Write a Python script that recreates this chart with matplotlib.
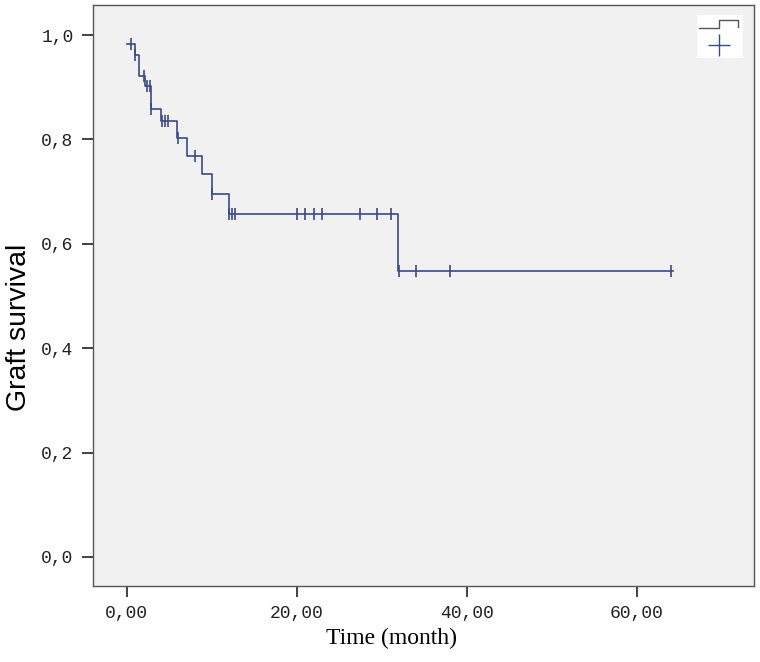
import numpy as np
import matplotlib
matplotlib.use("Agg")
import matplotlib.pyplot as plt
from matplotlib.patches import Rectangle
from matplotlib.lines import Line2D

# Kaplan-Meier step curve (event times in months, survival after each event)
event_times = [0.0, 1.0, 1.5, 2.1, 2.9, 4.0, 5.95, 7.05, 8.9, 10.0, 12.0, 31.95]
survival = [0.982, 0.962, 0.922, 0.902, 0.858, 0.836, 0.803, 0.769, 0.733, 0.695, 0.658, 0.547]
censor_times = [0.5, 1.0, 2.0, 2.4, 2.7, 2.9, 4.1, 4.5, 4.9, 6.0, 8.0, 10.0,
                12.0, 12.4, 12.8, 20.0, 21.0, 22.0, 23.0, 27.5, 29.4, 31.1,
                32.0, 34.0, 38.0, 64.0]
end_time = 64.3

x_ticks = [0, 20, 40, 60]
x_ticklabels = ["0,00", "20,00", "40,00", "60,00"]
y_ticks = [0.0, 0.2, 0.4, 0.6, 0.8, 1.0]
y_ticklabels = ["0,0", "0,2", "0,4", "0,6", "0,8", "1,0"]

LINE = "#3b4a86"
BG = "#f1f1f1"

fig = plt.figure(figsize=(7.6, 6.62), dpi=100)
fig.patch.set_facecolor("white")
ax = fig.add_axes([93 / 760, 1 - 586 / 662, 661 / 760, 581 / 662])
ax.set_facecolor(BG)

st = np.array(event_times + [end_time])
sv = np.array(survival + [survival[-1]])
ax.step(st, sv, where="post", color=LINE, lw=1.2)

ct = np.array(censor_times)
idx = np.searchsorted(np.array(event_times), ct, side="right") - 1
cy = np.array(survival)[idx]
ax.plot(ct, cy, ls="none", marker="|", ms=9, mew=1.2, color=LINE)

ax.set_xlim(-3.96, 73.8)
ax.set_ylim(-0.0556, 1.0575)
ax.set_xticks(x_ticks)
ax.set_xticklabels(x_ticklabels, family="Liberation Mono", fontsize=13, color="#222222")
ax.set_yticks(y_ticks)
ax.set_yticklabels(y_ticklabels, family="Liberation Mono", fontsize=13, color="#222222")
ax.tick_params(direction="out", length=8, width=1.2, color="#222222", pad=6)
for s in ax.spines.values():
    s.set_color("#555555"); s.set_linewidth(1.0)

ax.set_xlabel("Time (month)", family="Liberation Serif", fontsize=17)
ax.xaxis.set_label_coords(0.451, -0.072)
ax.set_ylabel("Graft survival", family="Liberation Sans", fontsize=20.5)
ax.yaxis.set_label_coords(-0.093, 0.445)

# legend box drawn in axes fraction coords
def fx(px): return (px - 93) / 661
def fy(py): return (586 - py) / 581
ax.add_patch(Rectangle((fx(697), fy(58)), fx(743) - fx(697), fy(15) - fy(58),
                       transform=ax.transAxes, fc="white", ec="none", zorder=3))
ax.add_line(Line2D([fx(699), fx(719), fx(719), fx(738), fx(738)],
                   [fy(28), fy(28), fy(20), fy(20), fy(27)],
                   transform=ax.transAxes, color="#555555", lw=1.0, zorder=4))
ax.plot([fx(719)], [fy(45)], marker="+", ms=16, mew=1.0, color=LINE,
        transform=ax.transAxes, zorder=4)

fig.savefig("out.png", dpi=100)
